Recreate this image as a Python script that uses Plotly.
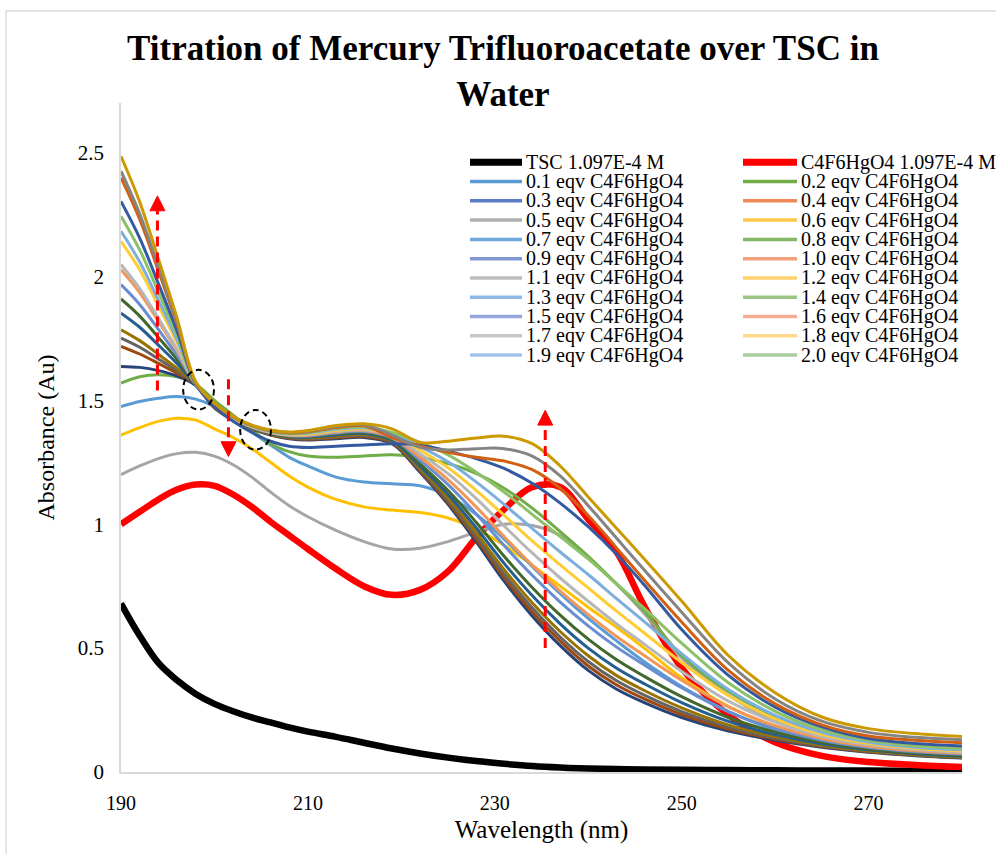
import plotly.graph_objects as go

# Wavelength grid (nm)
wavelength = [190, 192, 194, 196, 198, 200, 202, 204, 206, 208, 210, 213, 216, 219, 222,
              225, 228, 231, 234, 237, 240, 243, 246, 250, 255, 260, 265, 270, 275, 280]

# Absorbance of the reference solutions
tsc = [0.68, 0.55, 0.44, 0.37, 0.315, 0.275, 0.245, 0.22, 0.20, 0.18, 0.163, 0.142, 0.118, 0.095, 0.075,
       0.058, 0.044, 0.033, 0.024, 0.018, 0.014, 0.012, 0.010, 0.009, 0.008, 0.007, 0.006, 0.006, 0.005, 0.005]
hg_salt = [1.00, 1.05, 1.10, 1.14, 1.16, 1.155, 1.12, 1.07, 1.01, 0.955, 0.90, 0.82, 0.75, 0.715, 0.735,
           0.81, 0.945, 1.06, 1.15, 1.15, 1.02, 0.89, 0.67, 0.42, 0.23, 0.12, 0.065, 0.04, 0.028, 0.02]

# Absorbance after each addition of C4F6HgO4 (equivalents)
eq_0_1 = [1.20, 1.235, 1.265, 1.285, 1.29, 1.275, 1.24, 1.19, 1.13, 1.075, 1.03, 0.975, 0.93, 0.90, 0.903,
          0.93, 0.968, 1.0, 0.995, 0.955, 0.865, 0.76, 0.64, 0.46, 0.31, 0.205, 0.14, 0.10, 0.08, 0.07]
eq_0_2 = [1.36, 1.39, 1.415, 1.428, 1.42, 1.385, 1.35, 1.305, 1.25, 1.195, 1.15, 1.10, 1.07, 1.057, 1.047,
          1.025, 0.98, 0.915, 0.835, 0.75, 0.665, 0.585, 0.50, 0.38, 0.265, 0.182, 0.128, 0.097, 0.08, 0.07]
eq_0_3 = [1.475, 1.495, 1.508, 1.515, 1.505, 1.475, 1.425, 1.372, 1.32, 1.27, 1.235, 1.19, 1.17, 1.163, 1.155,
          1.115, 1.04, 0.94, 0.83, 0.72, 0.62, 0.53, 0.445, 0.345, 0.245, 0.17, 0.122, 0.092, 0.076, 0.068]
eq_0_4 = [1.57, 1.595, 1.603, 1.595, 1.565, 1.50, 1.44, 1.38, 1.325, 1.293, 1.275, 1.27, 1.275, 1.28, 1.27,
          1.245, 1.205, 1.145, 1.065, 0.97, 0.87, 0.76, 0.65, 0.47, 0.325, 0.225, 0.16, 0.12, 0.10, 0.09]
eq_0_5 = [1.637, 1.633, 1.62, 1.598, 1.56, 1.47, 1.42, 1.385, 1.36, 1.345, 1.34, 1.345, 1.35, 1.325, 1.21,
          1.08, 0.93, 0.77, 0.63, 0.51, 0.41, 0.335, 0.28, 0.22, 0.165, 0.128, 0.10, 0.08, 0.066, 0.056]
eq_0_6 = [1.718, 1.687, 1.649, 1.609, 1.565, 1.471, 1.421, 1.386, 1.361, 1.347, 1.343, 1.349, 1.354, 1.329, 1.215,
          1.088, 0.941, 0.784, 0.646, 0.528, 0.428, 0.352, 0.295, 0.232, 0.173, 0.133, 0.103, 0.082, 0.068, 0.058]
eq_0_7 = [1.751, 1.714, 1.667, 1.619, 1.565, 1.473, 1.422, 1.387, 1.363, 1.349, 1.345, 1.353, 1.358, 1.333, 1.22,
          1.096, 0.952, 0.799, 0.663, 0.545, 0.446, 0.369, 0.31, 0.244, 0.181, 0.137, 0.106, 0.084, 0.069, 0.059]
eq_0_8 = [1.785, 1.741, 1.686, 1.629, 1.565, 1.474, 1.423, 1.388, 1.364, 1.351, 1.348, 1.356, 1.362, 1.335, 1.226,
          1.106, 0.966, 0.817, 0.683, 0.567, 0.469, 0.39, 0.329, 0.259, 0.19, 0.143, 0.109, 0.086, 0.071, 0.061]
eq_0_9 = [1.852, 1.795, 1.723, 1.648, 1.565, 1.476, 1.424, 1.389, 1.366, 1.353, 1.351, 1.36, 1.366, 1.338, 1.234,
          1.12, 0.986, 0.842, 0.712, 0.598, 0.50, 0.42, 0.356, 0.28, 0.204, 0.151, 0.114, 0.09, 0.074, 0.064]
eq_1_0 = [1.909, 1.84, 1.754, 1.665, 1.565, 1.477, 1.425, 1.39, 1.367, 1.355, 1.354, 1.364, 1.37, 1.342, 1.244,
          1.136, 1.008, 0.871, 0.745, 0.633, 0.536, 0.454, 0.386, 0.304, 0.22, 0.161, 0.12, 0.093, 0.077, 0.067]
eq_1_1 = [1.967, 1.887, 1.786, 1.682, 1.565, 1.479, 1.426, 1.391, 1.369, 1.357, 1.356, 1.368, 1.374, 1.347, 1.258,
          1.16, 1.042, 0.914, 0.794, 0.686, 0.59, 0.505, 0.432, 0.34, 0.243, 0.175, 0.128, 0.099, 0.082, 0.072]
eq_1_2 = [2.027, 1.935, 1.819, 1.699, 1.565, 1.48, 1.428, 1.393, 1.37, 1.359, 1.359, 1.372, 1.378, 1.351, 1.27,
          1.18, 1.07, 0.95, 0.835, 0.73, 0.635, 0.548, 0.47, 0.37, 0.263, 0.187, 0.135, 0.104, 0.086, 0.076]
eq_1_3 = [2.048, 1.951, 1.831, 1.705, 1.565, 1.481, 1.429, 1.394, 1.371, 1.36, 1.362, 1.375, 1.381, 1.356, 1.284,
          1.204, 1.104, 0.993, 0.884, 0.783, 0.689, 0.599, 0.516, 0.406, 0.286, 0.201, 0.143, 0.11, 0.091, 0.08]
eq_1_4 = [2.142, 2.027, 1.882, 1.732, 1.565, 1.483, 1.43, 1.395, 1.373, 1.362, 1.364, 1.379, 1.385, 1.361, 1.299,
          1.228, 1.137, 1.036, 0.933, 0.836, 0.743, 0.65, 0.561, 0.442, 0.309, 0.215, 0.152, 0.116, 0.096, 0.085]
eq_1_5 = [2.182, 2.059, 1.904, 1.744, 1.565, 1.484, 1.431, 1.396, 1.374, 1.364, 1.367, 1.383, 1.389, 1.366, 1.313,
          1.252, 1.171, 1.08, 0.983, 0.888, 0.797, 0.701, 0.607, 0.478, 0.333, 0.229, 0.16, 0.121, 0.10, 0.09]
eq_1_6 = [2.243, 2.107, 1.938, 1.762, 1.565, 1.486, 1.432, 1.397, 1.376, 1.366, 1.37, 1.387, 1.393, 1.37, 1.33,
          1.28, 1.21, 1.13, 1.04, 0.95, 0.86, 0.76, 0.66, 0.52, 0.36, 0.245, 0.17, 0.128, 0.106, 0.095]
eq_1_7 = [2.303, 2.155, 1.971, 1.779, 1.565, 1.475, 1.415, 1.37, 1.335, 1.315, 1.31, 1.315, 1.32, 1.325, 1.32,
          1.295, 1.265, 1.225, 1.165, 1.085, 0.99, 0.88, 0.755, 0.575, 0.39, 0.262, 0.182, 0.135, 0.115, 0.105]
eq_1_8 = [2.398, 2.231, 2.023, 1.807, 1.57, 1.487, 1.433, 1.398, 1.377, 1.368, 1.373, 1.39, 1.397, 1.35, 1.315,
          1.29, 1.27, 1.255, 1.22, 1.145, 1.035, 0.905, 0.775, 0.605, 0.41, 0.275, 0.19, 0.145, 0.128, 0.118]
eq_1_9 = [2.425, 2.253, 2.038, 1.814, 1.57, 1.489, 1.434, 1.399, 1.379, 1.37, 1.375, 1.394, 1.401, 1.36, 1.31,
          1.30, 1.305, 1.305, 1.275, 1.195, 1.075, 0.945, 0.815, 0.645, 0.44, 0.295, 0.205, 0.16, 0.14, 0.13]
eq_2_0 = [2.485, 2.301, 2.071, 1.832, 1.575, 1.49, 1.435, 1.40, 1.38, 1.372, 1.378, 1.398, 1.405, 1.385, 1.33,
          1.335, 1.348, 1.355, 1.325, 1.235, 1.11, 0.985, 0.86, 0.69, 0.47, 0.32, 0.222, 0.175, 0.155, 0.143]

titration = [eq_0_1, eq_0_2, eq_0_3, eq_0_4, eq_0_5, eq_0_6, eq_0_7, eq_0_8, eq_0_9, eq_1_0,
             eq_1_1, eq_1_2, eq_1_3, eq_1_4, eq_1_5, eq_1_6, eq_1_7, eq_1_8, eq_1_9, eq_2_0]
equivalents = ["0.1", "0.2", "0.3", "0.4", "0.5", "0.6", "0.7", "0.8", "0.9", "1.0",
               "1.1", "1.2", "1.3", "1.4", "1.5", "1.6", "1.7", "1.8", "1.9", "2.0"]

# Line colours of the titration curves
curve_colors = ["#A5A5A5", "#FFC000", "#5B9BD5", "#70AD47", "#264478", "#9E480E", "#636363",
                "#997300", "#255E91", "#43682B", "#698ED0", "#F1975A", "#B7B7B7", "#FFCD33",
                "#7CAFDD", "#8CC168", "#335AA1", "#D26012", "#848484", "#CC9A00"]
# Swatch colours shown in the key
key_colors = ["#5B9BD5", "#70AD47", "#5B7BC4", "#EE8A58", "#B0B0B0", "#FFC74A", "#70A8DC",
              "#84B866", "#8097D0", "#F2A07C", "#BDBDBD", "#FFD06E", "#8EB9E3", "#9CC585",
              "#94A7D8", "#F3AD93", "#C7C7C7", "#FFD98B", "#A2C3E8", "#AACDA0"]

SERIF = "Liberation Serif"

fig = go.Figure()
fig.add_trace(go.Scatter(x=wavelength, y=tsc, mode="lines", name="TSC 1.097E-4 M",
                         line=dict(color="black", width=6.5, shape="spline", smoothing=1),
                         showlegend=False))
fig.add_trace(go.Scatter(x=wavelength, y=hg_salt, mode="lines", name="C4F6HgO4 1.097E-4 M",
                         line=dict(color="#FF0000", width=6.5, shape="spline", smoothing=1),
                         showlegend=False))
for eq, vals, col in zip(equivalents, titration, curve_colors):
    fig.add_trace(go.Scatter(x=wavelength, y=vals, mode="lines", name=f"{eq} eqv C4F6HgO4",
                             line=dict(color=col, width=3, shape="spline", smoothing=1),
                             showlegend=False))

# Plot-area geometry in pixels (used for the hand-built key and frame)
W, H = 996, 854
L, R, T, B = 121, 962, 103, 772


def px_x(px):
    return (px - L) / (R - L)


def px_y(py):
    return (B - py) / (B - T)


shapes = []
annotations = []

# Outer chart frame
shapes.append(dict(type="rect", xref="paper", yref="paper",
                   x0=px_x(6), x1=px_x(1200), y0=px_y(1000), y1=px_y(11),
                   line=dict(color="#D9D9D9", width=1.3), fillcolor="rgba(0,0,0,0)", layer="below"))

# Key: two columns of line swatches with labels
key_labels = ["TSC 1.097E-4 M", "C4F6HgO4 1.097E-4 M"] + [f"{e} eqv C4F6HgO4" for e in equivalents]
key_cols = ["black", "#FF0000"] + key_colors
key_widths = [7, 7] + [3.5] * 20
row0, row_step = 162.3, 19.27
for i, (lab, col, lw) in enumerate(zip(key_labels, key_cols, key_widths)):
    row, side = divmod(i, 2)
    y = row0 + row * row_step
    x0, x1, xt = (470, 522, 524) if side == 0 else (743, 797, 799)
    shapes.append(dict(type="line", xref="paper", yref="paper",
                       x0=px_x(x0), x1=px_x(x1), y0=px_y(y), y1=px_y(y),
                       line=dict(color=col, width=lw)))
    annotations.append(dict(xref="paper", yref="paper", x=px_x(xt), y=px_y(y),
                            text=lab, showarrow=False, xanchor="left", yanchor="middle",
                            font=dict(family=SERIF, size=20, color="black")))

# Dashed trend arrows (wavelength, start absorbance, end absorbance)
trend_arrows = [(193.9, 1.54, 2.325), (201.5, 1.585, 1.273), (235.4, 0.50, 1.46)]
for xw, ya, yb in trend_arrows:
    up = yb > ya
    head = 0.06 if up else -0.06
    shapes.append(dict(type="line", xref="x", yref="y", x0=xw, x1=xw, y0=ya, y1=yb - head,
                       line=dict(color="#FF0000", width=3, dash="10px,6px")))
    hw = 0.8
    shapes.append(dict(type="path", xref="x", yref="y",
                       path=f"M {xw - hw},{yb - head} L {xw + hw},{yb - head} L {xw},{yb} Z",
                       fillcolor="#FF0000", line=dict(color="#FF0000", width=1)))

# Dashed circles marking the isosbestic points (centre wavelength, centre absorbance)
for xc, yc in [(198.3, 1.543), (204.4, 1.381)]:
    shapes.append(dict(type="circle", xref="x", yref="y",
                       x0=xc - 1.65, x1=xc + 1.65, y0=yc - 0.08, y1=yc + 0.08,
                       line=dict(color="black", width=2, dash="6px,4px")))

fig.update_layout(
    width=W, height=H,
    paper_bgcolor="white", plot_bgcolor="white",
    margin=dict(l=L, r=W - R, t=T, b=H - B),
    title=dict(text="Titration of Mercury Trifluoroacetate over TSC in<br>Water",
               x=0.505, xanchor="center", y=1 - 60 / H, yanchor="middle",
               font=dict(family=SERIF, size=35, color="black", weight="bold")),
    xaxis=dict(range=[190, 280], tickvals=[190, 210, 230, 250, 270], showgrid=False, zeroline=False,
               showline=True, linecolor="#D9D9D9", linewidth=1.5, ticks="",
               tickfont=dict(family=SERIF, size=20, color="black"), ticklabelstandoff=12,
               title=dict(text="Wavelength (nm)", font=dict(family=SERIF, size=25, color="black"),
                          standoff=8)),
    yaxis=dict(range=[0, 2.7], tickvals=[0, 0.5, 1, 1.5, 2, 2.5],
               ticktext=["0", "0.5", "1", "1.5", "2", "2.5"], showgrid=False, zeroline=False,
               showline=True, linecolor="#D9D9D9", linewidth=1.5, ticks="",
               tickfont=dict(family=SERIF, size=21, color="black"), ticklabelstandoff=11,
               title=dict(text="Absorbance (Au)", font=dict(family=SERIF, size=24, color="black"),
                          standoff=16)),
    shapes=shapes,
    annotations=annotations,
    showlegend=False,
)

fig.write_html("out.html")
